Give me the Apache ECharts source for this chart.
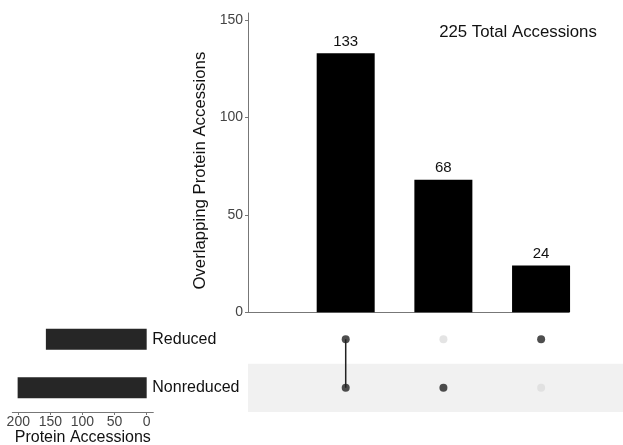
<!DOCTYPE html>
<html>
<head>
<meta charset="utf-8">
<script src="https://cdn.jsdelivr.net/npm/echarts@6/dist/echarts.min.js"></script>
<style>
  html, body { margin: 0; padding: 0; background: #fff; }
  #chart { width: 623px; height: 445px; }
</style>
</head>
<body>
<div id="chart"></div>
<script>
// Set names and their sizes (number of protein accessions per set)
const setNames = ["Reduced", "Nonreduced"];
const setSizes = [157, 201];

// Intersections: sizes and membership (1 = set included) in setNames order
const intersectionSizes = [133, 68, 24];
const intersectionMembers = [
  [1, 1],
  [0, 1],
  [1, 0]
];
const totalAccessions = 225;

// Tick labels
const intersectionTicks = [0, 50, 100, 150];
const setSizeTicks = [0, 50, 100, 150, 200];

const FONT = "Liberation Sans, Arial, Helvetica, sans-serif";
const DARK = "#222222";
const LIGHT = "#dddddd";
const AXIS = "#777777";
const TICKTXT = "#444444";

// Category axis for the matrix rows: bottom row first
const rowOrder = setNames.slice().reverse();
const rowIndex = name => rowOrder.indexOf(name);

// Intersection bar data at x = 1..n
const barData = intersectionSizes.map((v, i) => [i + 1, v]);

// Matrix dots
const dotData = [];
intersectionMembers.forEach((m, i) => {
  m.forEach((on, j) => {
    dotData.push({
      value: [i + 1, rowIndex(setNames[j])],
      itemStyle: { color: on ? DARK : LIGHT }
    });
  });
});

// Connecting segments for intersections of more than one set
const linkSeries = [];
intersectionMembers.forEach((m, i) => {
  const rows = m.map((on, j) => on ? rowIndex(setNames[j]) : null).filter(r => r !== null);
  if (rows.length > 1) {
    linkSeries.push({
      type: "line",
      xAxisIndex: 2,
      yAxisIndex: 2,
      data: [[i + 1, Math.min(...rows)], [i + 1, Math.max(...rows)]],
      symbol: "none",
      lineStyle: { color: DARK, width: 1.5 },
      z: 2,
      silent: true
    });
  }
});

// Set-size bars, in matrix row order
const setBarData = rowOrder.map(n => setSizes[setNames.indexOf(n)]);

const chart = echarts.init(document.getElementById("chart"), null, { renderer: "canvas" });

chart.setOption({
  animation: false,
  backgroundColor: "#ffffff",
  textStyle: { fontFamily: FONT },
  title: {
    text: totalAccessions + " Total Accessions",
    left: 513,
    top: 19,
    textAlign: "center",
    textStyle: { fontFamily: FONT, fontSize: 16.8, fontWeight: "normal", color: "#111" }
  },
  grid: [
    { left: 248, right: 54, top: 13, bottom: 132.7, outerBoundsMode: "none" },   // intersection sizes
    { left: 12.3, right: 469.7, top: 315, bottom: 33, outerBoundsMode: "none" }, // set sizes
    { left: 248, right: 0, top: 315, bottom: 33, outerBoundsMode: "none" }       // membership matrix
  ],
  xAxis: [
    {
      gridIndex: 0, type: "value", min: 0, max: 3.286,
      axisLine: { show: true, lineStyle: { color: AXIS, width: 1 } },
      axisTick: { show: false }, axisLabel: { show: false }, splitLine: { show: false }
    },
    {
      gridIndex: 1, type: "value", min: -10.3, max: 209.3, inverse: true,
      axisLine: { show: true, onZero: false, lineStyle: { color: AXIS, width: 1 } },
      axisTick: { show: true, length: 3, customValues: setSizeTicks, lineStyle: { color: AXIS } },
      axisLabel: { customValues: setSizeTicks, fontSize: 14, color: TICKTXT, margin: 3, fontFamily: FONT },
      splitLine: { show: false },
      name: "Protein Accessions", nameLocation: "middle", nameGap: 16,
      nameTextStyle: { fontSize: 16, color: "#111", fontFamily: FONT, verticalAlign: "top" }
    },
    {
      gridIndex: 2, type: "value", min: 0, max: 3.838, show: false
    }
  ],
  yAxis: [
    {
      gridIndex: 0, type: "value", min: 0, max: 153.6,
      axisLine: { show: true, lineStyle: { color: AXIS, width: 1 } },
      axisTick: { show: true, length: 3, customValues: intersectionTicks, lineStyle: { color: AXIS } },
      axisLabel: { customValues: intersectionTicks, fontSize: 14, color: TICKTXT, margin: 5, fontFamily: FONT },
      splitLine: { show: false },
      name: "Overlapping Protein Accessions", nameLocation: "middle", nameGap: 38,
      nameTextStyle: { fontSize: 16.8, color: "#111", fontFamily: FONT, padding: [0, 16, 0, 0] }
    },
    {
      gridIndex: 1, type: "category", data: rowOrder, position: "right",
      axisLine: { show: false }, axisTick: { show: false },
      axisLabel: { fontSize: 16, color: "#111", margin: -1, align: "left", fontFamily: FONT }
    },
    {
      gridIndex: 2, type: "category", data: rowOrder,
      axisLine: { show: false }, axisTick: { show: false }, axisLabel: { show: false },
      splitLine: { show: false },
      splitArea: { show: true, areaStyle: { color: ["#f1f1f1", "#ffffff"] } }
    }
  ],
  series: [
    {
      type: "bar", xAxisIndex: 0, yAxisIndex: 0,
      data: barData, barWidth: 58,
      itemStyle: { color: "#000000" },
      label: { show: true, position: "top", distance: 4, fontSize: 15, color: "#111", fontFamily: FONT,
               formatter: p => p.value[1] }
    },
    {
      type: "bar", xAxisIndex: 1, yAxisIndex: 1,
      data: setBarData, barWidth: 21,
      itemStyle: { color: "#262626" }
    },
    ...linkSeries,
    {
      type: "scatter", xAxisIndex: 2, yAxisIndex: 2,
      data: dotData, symbolSize: 8, z: 3
    }
  ]
});
</script>
</body>
</html>
